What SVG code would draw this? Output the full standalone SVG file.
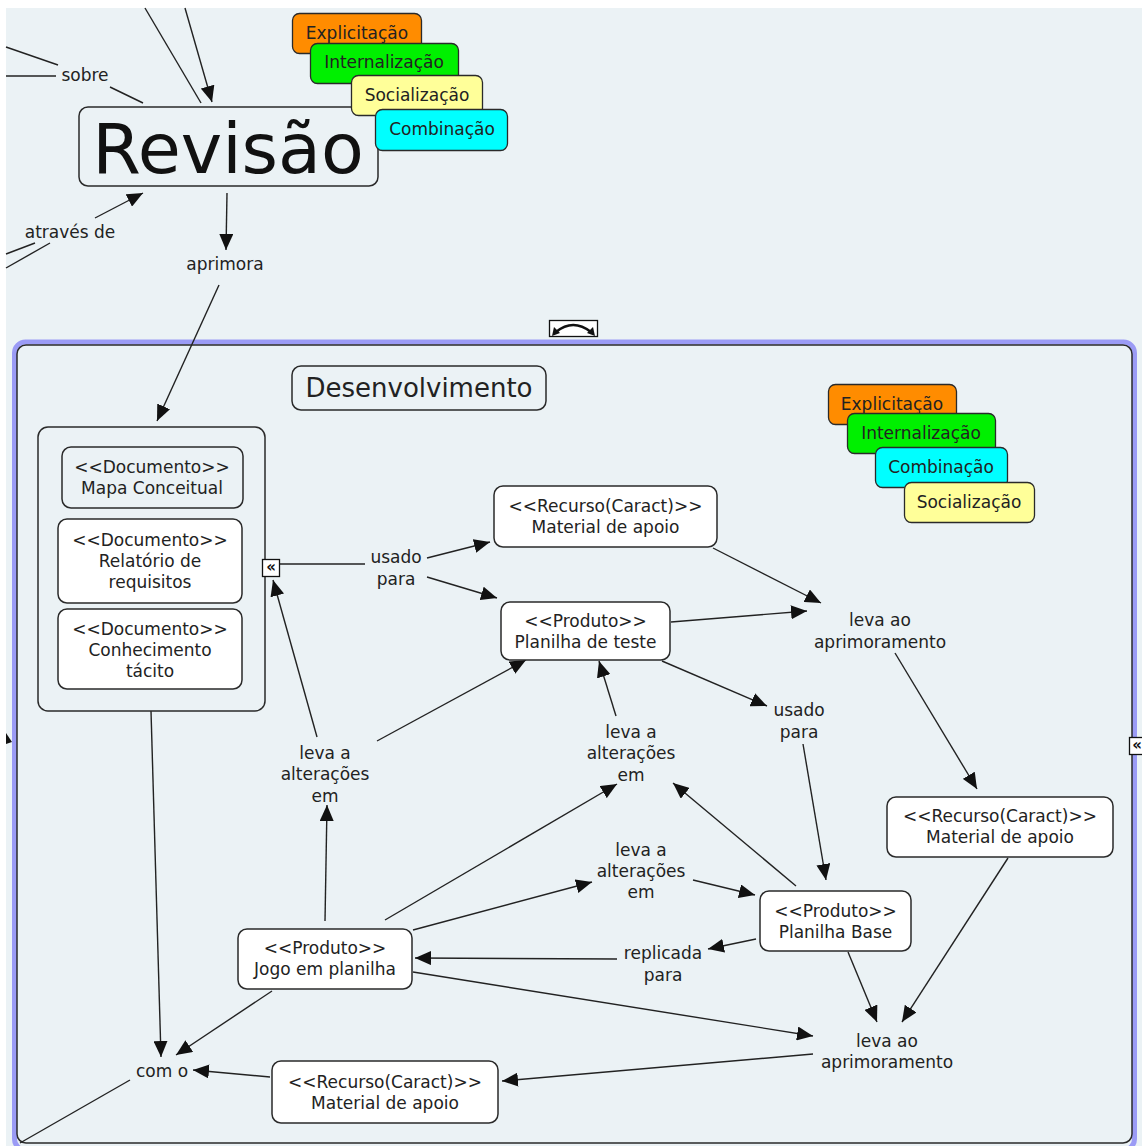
<svg xmlns="http://www.w3.org/2000/svg" width="1142" height="1146" viewBox="0 0 1142 1146">
  <style>
    text { font-family: "DejaVu Sans", Verdana, sans-serif; font-size: 17px; fill: #222; text-anchor: middle; dominant-baseline: central; }
    .node { fill: #ffffff; stroke: #2a2a2a; stroke-width: 1.5; }
    .plain { fill: #ebf2f5; stroke: #2a2a2a; stroke-width: 1.5; }
    .tag { stroke: #2a2a2a; stroke-width: 1.3; }
    .link { fill: none; stroke: #222; stroke-width: 1.4; }
    .arrow { marker-end: url(#head); }
    .icon { fill: #ffffff; stroke: #111; stroke-width: 1.3; }
  </style>
  <defs>
    <marker id="head" viewBox="0 0 16 14" refX="16" refY="7" markerWidth="16" markerHeight="14" markerUnits="userSpaceOnUse" orient="auto">
      <path d="M0,0 L16,7 L0,14 z" fill="#111"/>
    </marker>
  </defs>

  <!-- canvas -->
  <rect x="0" y="0" width="1142" height="1146" fill="#ffffff"/>
  <rect x="6" y="8" width="1136" height="1138" fill="#ebf2f5"/>

  <!-- Desenvolvimento panel -->
  <g id="panel-desenvolvimento">
    <rect x="14.5" y="342" width="1120" height="808" rx="11" fill="none" stroke="#9b9bf5" stroke-width="5"/>
    <rect x="17" y="345" width="1115" height="798" rx="9" fill="#ebf2f5" stroke="#2a2a2a" stroke-width="1.5"/>
  </g>

  <!-- connectors -->
  <g id="connectors">
    <!-- partial links at top-left -->
    <line class="link" x1="145" y1="8" x2="201" y2="103"/>
    <line class="link arrow" x1="185" y1="8" x2="212" y2="102"/>
    <line class="link" x1="6" y1="47" x2="58" y2="65"/>
    <line class="link" x1="6" y1="76" x2="56" y2="76"/>
    <line class="link" x1="110" y1="87" x2="143" y2="103"/>
    <line class="link arrow" x1="95" y1="218" x2="143" y2="193"/>
    <line class="link" x1="6" y1="254" x2="35" y2="243"/>
    <line class="link" x1="6" y1="268" x2="50" y2="243"/>
    <line class="link arrow" x1="227" y1="193" x2="226" y2="250"/>
    <line class="link arrow" x1="219" y1="285" x2="157" y2="421"/>
    <polygon points="6,733 12,742 6,744" fill="#111"/>

    <!-- inside panel -->
    <line class="link" x1="280" y1="564" x2="365" y2="564"/>
    <line class="link arrow" x1="427" y1="558" x2="490" y2="542"/>
    <line class="link arrow" x1="427" y1="577" x2="497" y2="598"/>
    <line class="link arrow" x1="713" y1="548" x2="821" y2="603"/>
    <line class="link arrow" x1="671" y1="622" x2="807" y2="611"/>
    <line class="link arrow" x1="895" y1="653" x2="977" y2="789"/>
    <line class="link arrow" x1="662" y1="661" x2="767" y2="706"/>
    <line class="link arrow" x1="803" y1="744" x2="826" y2="880"/>
    <line class="link arrow" x1="796" y1="886" x2="673" y2="783"/>
    <line class="link arrow" x1="616" y1="716" x2="599" y2="661"/>
    <line class="link arrow" x1="385" y1="920" x2="617" y2="784"/>
    <line class="link arrow" x1="413" y1="930" x2="592" y2="882"/>
    <line class="link arrow" x1="693" y1="880" x2="755" y2="895"/>
    <line class="link arrow" x1="756" y1="939" x2="708" y2="949"/>
    <line class="link arrow" x1="617" y1="959" x2="415" y2="958"/>
    <line class="link arrow" x1="325" y1="921" x2="327" y2="805"/>
    <line class="link arrow" x1="377" y1="741" x2="526" y2="660"/>
    <line class="link arrow" x1="317" y1="737" x2="273" y2="580"/>
    <line class="link arrow" x1="151" y1="711" x2="161" y2="1057"/>
    <line class="link arrow" x1="272" y1="991" x2="176" y2="1055"/>
    <line class="link arrow" x1="270" y1="1077" x2="193" y2="1070"/>
    <line class="link arrow" x1="413" y1="972" x2="813" y2="1036"/>
    <line class="link arrow" x1="848" y1="952" x2="877" y2="1022"/>
    <line class="link arrow" x1="1008" y1="858" x2="902" y2="1022"/>
    <line class="link arrow" x1="813" y1="1054" x2="502" y2="1081"/>
    <line class="link" x1="130" y1="1080" x2="20" y2="1143"/>
  </g>

  <!-- linking phrases -->
  <g id="label-sobre"><text x="85" y="75">sobre</text></g>
  <g id="label-atraves"><text x="70" y="232">através de</text></g>
  <g id="label-aprimora"><text x="225" y="264">aprimora</text></g>
  <g id="label-usado-1"><text x="396" y="557">usado</text><text x="396" y="579">para</text></g>
  <g id="label-leva-ao-1"><text x="880" y="620">leva ao</text><text x="880" y="642">aprimoramento</text></g>
  <g id="label-usado-2"><text x="799" y="710">usado</text><text x="799" y="732">para</text></g>
  <g id="label-leva-a-1"><text x="325" y="753">leva a</text><text x="325" y="774">alterações</text><text x="325" y="796">em</text></g>
  <g id="label-leva-a-2"><text x="631" y="732">leva a</text><text x="631" y="753">alterações</text><text x="631" y="775">em</text></g>
  <g id="label-leva-a-3"><text x="641" y="850">leva a</text><text x="641" y="871">alterações</text><text x="641" y="892">em</text></g>
  <g id="label-replicada"><text x="663" y="953">replicada</text><text x="663" y="975">para</text></g>
  <g id="label-leva-ao-2"><text x="887" y="1041">leva ao</text><text x="887" y="1062">aprimoramento</text></g>
  <g id="label-com-o"><text x="162" y="1071">com o</text></g>

  <!-- concepts -->
  <g id="node-revisao">
    <rect class="plain" x="79" y="107" width="299" height="79" rx="9"/>
    <text x="228" y="149" style="font-size:70px; fill:#111">Revisão</text>
  </g>

  <g id="tags-top">
    <rect class="tag" x="292.5" y="13.5" width="129" height="40" rx="7" fill="#ff8c00"/>
    <text x="357" y="33">Explicitação</text>
    <rect class="tag" x="310.5" y="43.5" width="148" height="40" rx="7" fill="#00f000"/>
    <text x="384" y="62">Internalização</text>
    <rect class="tag" x="351.5" y="75.5" width="131" height="40" rx="7" fill="#ffff99"/>
    <text x="417" y="95">Socialização</text>
    <rect class="tag" x="375.5" y="109.5" width="132" height="41" rx="7" fill="#00ffff"/>
    <text x="442" y="129">Combinação</text>
  </g>

  <g id="icon-collapse">
    <rect class="icon" x="549.5" y="320.5" width="48" height="16"/>
    <path d="M556,332 Q573,318 591,332" fill="none" stroke="#111" stroke-width="2.5"/>
    <path d="M552,336 L554,327 L560,333 z" fill="#111"/>
    <path d="M595,336 L593,327 L587,333 z" fill="#111"/>
  </g>

  <g id="node-desenvolvimento">
    <rect class="plain" x="292" y="366" width="254" height="44" rx="9"/>
    <text x="419" y="388" style="font-size:26px">Desenvolvimento</text>
  </g>

  <g id="tags-panel">
    <rect class="tag" x="828.5" y="384.5" width="128" height="40" rx="7" fill="#ff8c00"/>
    <text x="892" y="404">Explicitação</text>
    <rect class="tag" x="847.5" y="413.5" width="148" height="40" rx="7" fill="#00f000"/>
    <text x="921" y="433">Internalização</text>
    <rect class="tag" x="875.5" y="447.5" width="132" height="40" rx="7" fill="#00ffff"/>
    <text x="941" y="467">Combinação</text>
    <rect class="tag" x="904.5" y="482.5" width="130" height="40" rx="7" fill="#ffff99"/>
    <text x="969" y="502">Socialização</text>
  </g>

  <g id="node-documentos">
    <rect class="plain" x="38" y="427" width="227" height="284" rx="10"/>
  </g>
  <g id="node-mapa-conceitual">
    <rect class="plain" x="62" y="447" width="181" height="61" rx="9"/>
    <text x="152" y="467">&lt;&lt;Documento&gt;&gt;</text>
    <text x="152" y="488">Mapa Conceitual</text>
  </g>
  <g id="node-relatorio">
    <rect class="node" x="58" y="519" width="184" height="84" rx="9"/>
    <text x="150" y="540">&lt;&lt;Documento&gt;&gt;</text>
    <text x="150" y="561">Relatório de</text>
    <text x="150" y="582">requisitos</text>
  </g>
  <g id="node-conhecimento">
    <rect class="node" x="58" y="609" width="184" height="80" rx="9"/>
    <text x="150" y="629">&lt;&lt;Documento&gt;&gt;</text>
    <text x="150" y="650">Conhecimento</text>
    <text x="150" y="671">tácito</text>
  </g>
  <g id="icon-documentos">
    <rect class="icon" x="262.5" y="559.5" width="17" height="17"/>
    <text x="271" y="567" style="font-size:15px; font-weight:bold; fill:#111">«</text>
  </g>
  <g id="icon-right">
    <rect class="icon" x="1129.5" y="737.5" width="14" height="17"/>
    <text x="1137" y="745" style="font-size:15px; font-weight:bold; fill:#111">«</text>
  </g>

  <g id="node-material-1">
    <rect class="node" x="494" y="486" width="223" height="61" rx="9"/>
    <text x="605.5" y="506">&lt;&lt;Recurso(Caract)&gt;&gt;</text>
    <text x="605.5" y="527">Material de apoio</text>
  </g>
  <g id="node-planilha-teste">
    <rect class="node" x="501" y="602" width="169" height="58" rx="9"/>
    <text x="585.5" y="621">&lt;&lt;Produto&gt;&gt;</text>
    <text x="585.5" y="642">Planilha de teste</text>
  </g>
  <g id="node-material-2">
    <rect class="node" x="887" y="797" width="226" height="60" rx="9"/>
    <text x="1000" y="816">&lt;&lt;Recurso(Caract)&gt;&gt;</text>
    <text x="1000" y="837">Material de apoio</text>
  </g>
  <g id="node-planilha-base">
    <rect class="node" x="760" y="891" width="151" height="60" rx="9"/>
    <text x="835.5" y="911">&lt;&lt;Produto&gt;&gt;</text>
    <text x="835.5" y="932">Planilha Base</text>
  </g>
  <g id="node-jogo">
    <rect class="node" x="238" y="929" width="174" height="60" rx="9"/>
    <text x="325" y="948">&lt;&lt;Produto&gt;&gt;</text>
    <text x="325" y="969">Jogo em planilha</text>
  </g>
  <g id="node-material-3">
    <rect class="node" x="272" y="1061" width="226" height="62" rx="9"/>
    <text x="385" y="1082">&lt;&lt;Recurso(Caract)&gt;&gt;</text>
    <text x="385" y="1103">Material de apoio</text>
  </g>
</svg>
